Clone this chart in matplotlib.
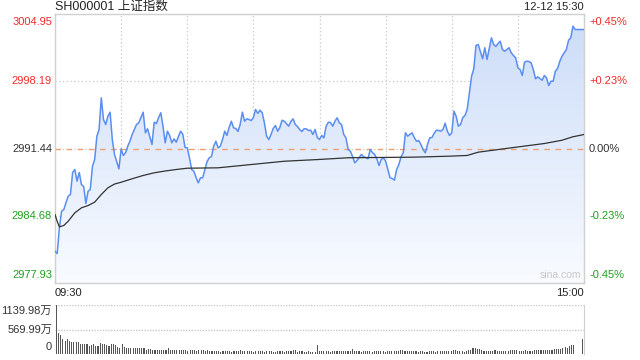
import matplotlib
matplotlib.use("Agg")
import matplotlib.pyplot as plt
import numpy as np
from matplotlib.colors import LinearSegmentedColormap
from matplotlib.patches import Polygon

plt.rcParams['font.family'] = ['Liberation Sans', 'Noto Sans CJK SC', 'DejaVu Sans']

# ---------------- data ----------------
title = "SH000001 上证指数"
stamp = "12-12 15:30"
prev_close = 2991.44
price_top = 3004.95
price_bottom = 2977.93
price_ticks = [3004.95, 2998.19, 2991.44, 2984.68, 2977.93]
pct_labels = ["+0.45%", "+0.23%", "0.00%", "-0.23%", "-0.45%"]
time_labels = ["09:30", "15:00"]
vol_labels = ["1139.98万", "569.99万", "0"]
vol_max = 1139.98

# minute-by-minute index price (0 = 09:30, 120 = 11:30/13:00, 240 = 15:00)
price = [
    2981.12, 2980.89, 2983.50, 2985.14, 2985.31, 2986.02, 2986.65, 2986.82, 2989.03, 2989.33,
    2988.16, 2989.03, 2987.82, 2987.62, 2985.92, 2987.15, 2987.32, 2989.66, 2990.34, 2992.68,
    2993.35, 2996.53, 2994.35, 2993.85, 2994.68, 2995.09, 2992.34, 2990.84, 2990.13, 2989.40,
    2991.41, 2990.74, 2991.01, 2991.67, 2992.17, 2992.85, 2993.35, 2993.85, 2994.02, 2994.55,
    2995.09, 2993.02, 2993.42, 2992.65, 2991.84, 2994.08, 2993.95, 2994.55, 2995.03, 2993.68,
    2992.01, 2993.18, 2992.75, 2992.01, 2992.41, 2992.07, 2992.65, 2993.18, 2992.85, 2991.54,
    2991.51, 2990.51, 2989.33, 2989.16, 2988.53, 2987.99, 2988.50, 2988.50, 2989.33, 2990.13,
    2990.51, 2990.64, 2991.67, 2992.17, 2991.51, 2991.67, 2992.34, 2993.18, 2992.75, 2993.55,
    2994.18, 2993.52, 2993.45, 2993.15, 2993.85, 2995.09, 2994.18, 2994.42, 2994.35, 2994.25,
    2994.55, 2995.36, 2994.96, 2995.29, 2995.03, 2994.02, 2992.68, 2992.34, 2992.85, 2993.45,
    2993.75, 2993.18, 2993.55, 2994.28, 2994.18, 2993.95, 2993.68, 2994.15, 2994.42, 2993.85,
    2993.65, 2993.35, 2993.15, 2993.42, 2993.42, 2993.25, 2993.28, 2992.85, 2993.35, 2992.55,
    2992.34, 2992.75, 2992.51, 2993.68, 2994.08, 2994.05, 2993.68, 2994.18, 2994.52, 2994.02,
    2993.85, 2992.85, 2992.51, 2991.34, 2991.17, 2990.64, 2990.00, 2990.23, 2990.54, 2990.84,
    2990.61, 2990.54, 2990.41, 2991.34, 2991.04, 2990.84, 2990.41, 2989.73, 2990.34, 2990.51,
    2990.17, 2989.33, 2988.50, 2988.43, 2988.26, 2989.33, 2989.83, 2990.61, 2991.01, 2993.02,
    2992.68, 2992.85, 2993.02, 2992.54, 2992.17, 2992.24, 2991.84, 2991.34, 2991.01, 2991.84,
    2992.51, 2992.54, 2992.95, 2993.28, 2993.25, 2993.18, 2993.35, 2993.98, 2993.18, 2992.75,
    2993.02, 2995.19, 2994.68, 2993.68, 2993.85, 2994.55, 2994.75, 2995.36, 2997.04, 2998.70,
    2999.45, 3001.79, 3001.89, 3001.18, 3000.45, 3001.56, 3000.38, 3001.46, 3002.56, 3001.89,
    3001.69, 3001.99, 3002.22, 3001.38, 3001.21, 3001.38, 3001.56, 3001.05, 3000.78, 3000.55,
    2999.55, 2999.38, 2998.77, 3000.11, 3000.21, 3000.18, 3000.05, 2999.38, 2998.44, 2998.64,
    2998.47, 2998.30, 2998.77, 2998.54, 2997.77, 2998.20, 2998.20, 2999.20, 2999.48, 3000.18,
    3000.71, 3001.05, 3001.38, 3002.32, 3002.56, 3003.73, 3003.39, 3003.39, 3003.39, 3003.39,
    3003.39,
]

# average price line (sampled minutes)
avg_minutes = [0, 1, 2, 4, 6, 9, 12, 15, 18, 21, 24, 27, 30, 35, 40, 45, 50, 55, 60,
               74, 89, 104, 120, 133, 148, 163, 179, 187, 192, 207, 222, 230, 235, 238, 240]
avg_price = [2984.81, 2984.11, 2983.57, 2983.71, 2984.14, 2984.98, 2985.48, 2985.71, 2986.05,
             2986.82, 2987.49, 2987.87, 2988.05, 2988.40, 2988.73, 2989.00, 2989.18, 2989.33,
             2989.46, 2989.50, 2989.83, 2990.16, 2990.34, 2990.51, 2990.54, 2990.57, 2990.67,
             2990.74, 2991.07, 2991.51, 2991.94, 2992.27, 2992.62, 2992.75, 2992.85]

# per-minute volume (万)
volume = [
    1139.98, 497, 451, 352, 306, 352, 306, 268, 283, 268, 268, 222, 222, 222, 237, 191, 207, 222,
    176, 176, 260, 237, 237, 199, 191, 222, 222, 199, 168, 145, 237, 168, 138, 130, 145, 130, 130,
    130, 145, 145, 145, 99, 115, 122, 99, 99, 99, 92, 99, 84, 99, 138, 99, 99, 84, 92, 99, 84, 99,
    99, 77, 99, 92, 84, 77, 92, 84, 84, 77, 92, 77, 61, 77, 69, 61, 54, 77, 69, 77, 77, 54, 61, 69,
    69, 92, 61, 77, 61, 69, 69, 54, 77, 61, 61, 61, 54, 77, 69, 61, 54, 54, 77, 61, 69, 54, 61, 61,
    77, 99, 99, 54, 61, 69, 54, 54, 61, 54, 54, 54, 214, 69, 61, 69, 61, 69, 54, 61, 61, 77, 77, 61,
    77, 77, 69, 61, 115, 61, 61, 61, 54, 69, 61, 69, 61, 54, 77, 61, 77, 61, 77, 54, 77, 77, 61, 61,
    77, 69, 84, 99, 61, 69, 61, 61, 61, 61, 54, 61, 61, 54, 54, 61, 61, 61, 54, 61, 61, 61, 69, 61,
    61, 77, 99, 99, 61, 61, 61, 54, 77, 84, 99, 138, 130, 122, 122, 84, 77, 77, 69, 77, 77, 84, 61,
    77, 61, 61, 61, 77, 84, 84, 92, 92, 77, 77, 77, 92, 77, 77, 77, 92, 92, 99, 99, 99, 99, 99, 99,
    99, 107, 115, 122, 115, 145, 161, 145, 191, 207, 214, 5, 5, 5, 352,
]

# ---------------- figure ----------------
W, H = 640, 360
fig = plt.figure(figsize=(6.4, 3.6), dpi=100)
fig.patch.set_facecolor('white')

def fx(px):
    return px / W

def fy(py):
    return 1 - py / H

L, R = 55, 584
T1, B1 = 14, 283
T2, B2 = 305, 354

ax = fig.add_axes([fx(L), fy(B1), fx(R - L), fy(T1) - fy(B1)])
ax2 = fig.add_axes([fx(L), fy(B2), fx(R - L), fy(T2) - fy(B2)])

n = len(price)
x = np.arange(n)
ax.set_xlim(0, n - 1)
ax.set_ylim(price_bottom, price_top)

grid_col = '#c8c8c8'
for v in price_ticks[1:-1]:
    ax.axhline(v, color=grid_col, lw=0.9, ls=(0, (1, 2)), zorder=0.5)
for m in range(30, 240, 30):
    ax.axvline(m, color=grid_col, lw=0.9, ls=(0, (1, 2)), zorder=0.5)

# gradient fill under the price line
verts = list(zip(x, price)) + [(n - 1, price_bottom), (0, price_bottom)]
poly = Polygon(verts, closed=True, facecolor='none', edgecolor='none')
ax.add_patch(poly)
cmap = LinearSegmentedColormap.from_list('g', ['#f9fbff', '#cbdcf8'])
grad = np.linspace(1, 0, 256).reshape(-1, 1)
im = ax.imshow(grad, extent=[0, n - 1, price_bottom, price_top], aspect='auto',
               cmap=cmap, origin='upper', zorder=1, interpolation='bilinear')
im.set_clip_path(poly)

ax.axhline(prev_close, color='#f0a070', lw=1.0, ls=(0, (4, 4)), zorder=2)
ax.plot(x, price, color='#5a8ef0', lw=1.1, zorder=3)
ax.plot(avg_minutes, avg_price, color='#333333', lw=0.9, zorder=3)

for s in ax.spines.values():
    s.set_color('#d0d0d0')
    s.set_linewidth(1)
ax.set_xticks([])
ax.set_yticks([])

red, green, dark = '#f02a2a', '#1ea01e', '#333333'
cols = [red, red, dark, green, green]
fs = 8
for v, lab, pl, c in zip(price_ticks, price_ticks, pct_labels, cols):
    va = 'center'
    if v == price_top:
        va = 'top'
    elif v == price_bottom:
        va = 'bottom'
    yoff = -3 if va == 'top' else (3 if va == 'bottom' else 0)
    ax.annotate(f"{lab:.2f}", xy=(0, v), xycoords=('axes fraction', 'data'),
                xytext=(-3, yoff), textcoords='offset pixels', ha='right', va=va,
                color=c, fontsize=fs)
    ax.annotate(pl, xy=(1, v), xycoords=('axes fraction', 'data'),
                xytext=(5, yoff), textcoords='offset pixels', ha='left', va=va,
                color=c, fontsize=fs)

ax.text(0.995, 0.012, "sina.com", transform=ax.transAxes, ha='right', va='bottom',
        color='#c8c8c8', fontsize=7.5)

fig.text(fx(L), fy(7), title, ha='left', va='center', fontsize=9, color='#222222')
fig.text(fx(R), fy(7), stamp, ha='right', va='center', fontsize=8, color='#222222')
fig.text(fx(L), fy(293), time_labels[0], ha='left', va='center', fontsize=8, color='#222222')
fig.text(fx(R), fy(293), time_labels[1], ha='right', va='center', fontsize=8, color='#222222')

# volume panel
ax2.set_xlim(-0.6, n - 0.4)
ax2.set_ylim(0, vol_max)
ax2.bar(np.arange(len(volume)), volume, width=0.5, color='#555555', linewidth=0,
        antialiased=False, zorder=2)
ax2.axhline(vol_max, color=grid_col, lw=1.0, ls=(0, (1, 1)), zorder=1)
ax2.axhline(vol_max / 2, color=grid_col, lw=1.0, ls=(0, (1, 1)), zorder=1)
for k, s in ax2.spines.items():
    if k == 'right':
        s.set_color('#d0d0d0')
    else:
        s.set_visible(False)
ax2.set_xticks([])
ax2.set_yticks([])
vol_vals = [vol_max, vol_max / 2, 0]
vas = ['top', 'center', 'bottom']
for v, lab, va in zip(vol_vals, vol_labels, vas):
    yoff = -1 if va == 'top' else (2 if va == 'bottom' else 0)
    ax2.annotate(lab, xy=(0, v), xycoords=('axes fraction', 'data'),
                 xytext=(-3, yoff), textcoords='offset pixels', ha='right', va=va,
                 color='#333333', fontsize=fs)

fig.savefig('out.png', dpi=100)
